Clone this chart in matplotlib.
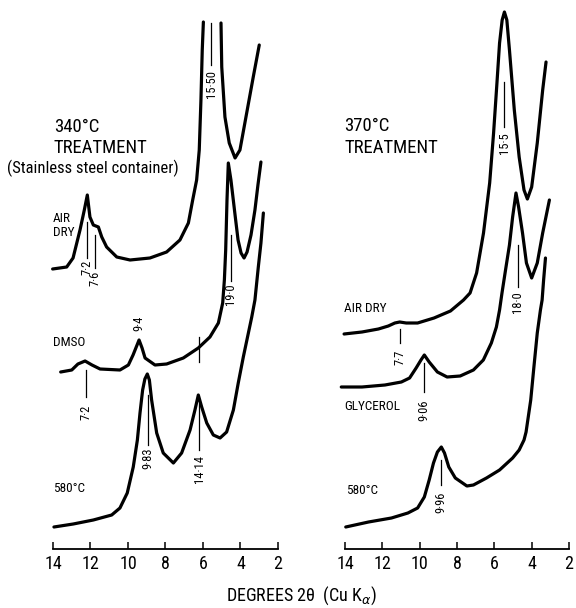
import numpy as np
import matplotlib
matplotlib.use("Agg")
import matplotlib.pyplot as plt
from matplotlib import font_manager

# --- data (2-theta in degrees, intensity in arbitrary offset units) ---
# 340 C treatment, stainless steel container
t340_air = [14.02, 13.27, 12.93, 12.56, 12.33, 12.17, 12.03, 11.85, 11.58, 11.40, 11.14, 10.60,
            9.89, 8.83, 7.94, 7.23, 6.78, 6.55, 6.34, 6.20, 6.11, 6.04, 5.98, np.nan,
            5.04, 5.00, 4.83, 4.60, 4.29, 4.03, 3.67, 3.32, 3.00]
i340_air = [280, 282, 291, 319, 339, 354, 332, 324, 322, 312, 302, 292,
            289, 291, 297, 309, 326, 349, 369, 399, 449, 499, 527, np.nan,
            526, 482, 432, 406, 391, 399, 436, 472, 504]

t340_dmso = [13.59, 13.00, 12.67, 12.29, 11.92, 11.49, 10.43, 9.98, 9.73, 9.41, 9.25, 9.09,
             8.56, 7.94, 7.05, 6.25, 5.63, 5.18, 4.95, 4.86, 4.79, 4.72, 4.65, 4.51, 4.29,
             4.13, 3.97, 3.81, 3.65, 3.44, 3.23, 3.07, 2.91]
i340_dmso = [177, 179, 185, 188, 184, 180, 179, 184, 194, 209, 201, 191,
             184, 185, 191, 201, 212, 226, 246, 269, 299, 349, 386, 369, 334,
             309, 296, 291, 297, 314, 339, 364, 387]

t340_580 = [13.95, 12.92, 11.85, 10.87, 10.43, 10.04, 9.72, 9.50, 9.36, 9.22, 9.10, 8.97, 8.86,
            8.74, 8.47, 8.12, 7.58, 7.14, 6.69, 6.43, 6.25, 6.07, 5.80, 5.45, 5.09, 4.74,
            4.38, 4.12, 3.85, 3.58, 3.40, 3.23, 3.05, 2.91, 2.78]
i340_580 = [22, 25, 29, 34, 41, 56, 82, 109, 136, 159, 170, 175, 169,
            149, 116, 96, 86, 96, 119, 139, 154, 142, 126, 114, 111, 117,
            139, 166, 192, 216, 232, 249, 282, 306, 336]

# 370 C treatment
t370_air = [14.05, 13.09, 12.21, 11.68, 11.33, 11.07, 10.72, 10.11, 9.23, 8.35, 7.65, 7.30,
            6.95, 6.58, 6.25, 6.04, 5.86, 5.72, 5.58, 5.46, 5.33, 5.19, 4.93, 4.67, 4.41,
            4.23, 4.00, 3.70, 3.41, 3.23]
i370_air = [215, 217, 220, 223, 226, 227, 226, 226, 231, 238, 249, 256,
            276, 316, 366, 416, 466, 506, 529, 537, 529, 499, 439, 392, 359,
            350, 362, 406, 459, 487]

t370_gly = [14.20, 13.09, 11.86, 10.98, 10.54, 10.19, 9.93, 9.75, 9.49, 9.05, 8.53, 7.83,
            7.12, 6.59, 6.16, 5.89, 5.72, 5.59, 5.40, 5.19, 5.02, 4.84, 4.70, 4.49, 4.28,
            4.00, 3.70, 3.41, 3.05]
i370_gly = [162, 162, 164, 167, 171, 181, 189, 194, 187, 177, 172, 173,
            179, 189, 206, 222, 239, 256, 279, 304, 332, 356, 342, 316, 286,
            271, 286, 316, 349]

t370_580 = [13.96, 12.74, 11.51, 10.63, 10.11, 9.75, 9.49, 9.26, 9.05, 8.84, 8.67, 8.44,
            8.09, 7.47, 7.12, 6.42, 5.72, 5.02, 4.67, 4.41, 4.30, 4.05, 3.88, 3.70, 3.53,
            3.44, 3.36, 3.26]
i370_580 = [22, 27, 31, 36, 41, 52, 69, 86, 97, 102, 96, 82,
            71, 63, 64, 71, 79, 91, 99, 109, 117, 149, 182, 216, 239,
            249, 269, 291]

ticks = [14, 12, 10, 8, 6, 4, 2]

# d-spacing marks: (2theta, line top, line bottom, label, label y)
marks_340 = [(12.20, 327, 291, "7·2", 282),
             (11.74, 314, 281, "7·6", 271),
             (5.57, 526, 484, "15·50", 465),
             (4.52, 314, 268, "19·0", 255),
             (9.41, None, None, "9·4", 226),
             (6.21, 212, 187, None, None),
             (12.26, 179, 152, "7·2", 137),
             (8.95, 154, 104, "9·83", 91),
             (6.21, 146, 99, "14·14", 80)]
marks_370 = [(5.46, 467, 422, "15·5", 406),
             (11.05, 220, 206, "7·7", 192),
             (4.75, 304, 262, "18·0", 247),
             (9.75, 186, 157, "9·06", 139),
             (8.84, 89, 64, "9·96", 47)]


def pick_font():
    names = {f.name for f in font_manager.fontManager.ttflist}
    for n in ["Liberation Sans Narrow", "DejaVu Sans Condensed", "Roboto Condensed"]:
        if n in names:
            return n, "normal"
    return "DejaVu Sans", "condensed"


FONT, STRETCH = pick_font()
plt.rcParams["font.family"] = [FONT, "DejaVu Sans"]
plt.rcParams["font.stretch"] = STRETCH
plt.rcParams["mathtext.fontset"] = "dejavusans"

fig = plt.figure(figsize=(5.76, 6.08), dpi=100)
W, H = 576, 608
ax1 = fig.add_axes([53 / W, (H - 549) / H, 225 / W, 549 / H])
ax2 = fig.add_axes([345 / W, (H - 549) / H, 224 / W, 549 / H])

for ax in (ax1, ax2):
    ax.set_xlim(14, 2)
    ax.set_ylim(0, 549)
    ax.patch.set_alpha(0)
    for s in ("top", "left", "right"):
        ax.spines[s].set_visible(False)
    ax.spines["bottom"].set_linewidth(1.3)
    ax.set_xticks(ticks)
    ax.set_xticklabels([str(t) for t in ticks], fontsize=13)
    ax.set_yticks([])
    ax.tick_params(axis="x", direction="in", length=5, width=1.1, pad=4)

curve = dict(color="black", lw=2.3, solid_joinstyle="round", solid_capstyle="round", clip_on=False)
ax1.plot(t340_air, i340_air, **curve)
ax1.plot(t340_dmso, i340_dmso, **curve)
ax1.plot(t340_580, i340_580, **curve)
ax2.plot(t370_air, i370_air, **curve)
ax2.plot(t370_gly, i370_gly, **curve)
ax2.plot(t370_580, i370_580, **curve)


def draw_marks(ax, marks):
    for x, y0, y1, lab, ly in marks:
        if y0 is not None:
            ax.plot([x, x], [y0, y1], color="black", lw=0.9, clip_on=False)
        if lab:
            ax.text(x, ly, lab, rotation=90, ha="center", va="center", fontsize=9)


draw_marks(ax1, marks_340)
draw_marks(ax2, marks_370)

# panel captions
ax1.text(13.95, 422, "340°C", fontsize=13.5, va="center", ha="left")
ax1.text(13.95, 401, "TREATMENT", fontsize=13.5, va="center", ha="left")
ax1.text(16.45, 381, "(Stainless steel container)", fontsize=12, va="center", ha="left")
ax1.text(14.0, 331, "AIR", fontsize=9.5, va="center", ha="left")
ax1.text(14.0, 316, "DRY", fontsize=9.5, va="center", ha="left")
ax1.text(14.0, 207, "DMSO", fontsize=9.5, va="center", ha="left")
ax1.text(14.0, 61, "580°C", fontsize=9.5, va="center", ha="left")

ax2.text(14.05, 423, "370°C", fontsize=13.5, va="center", ha="left")
ax2.text(14.05, 401, "TREATMENT", fontsize=13.5, va="center", ha="left")
ax2.text(14.05, 241, "AIR DRY", fontsize=9.5, va="center", ha="left")
ax2.text(14.05, 143, "GLYCEROL", fontsize=9.5, va="center", ha="left")
ax2.text(13.96, 58, "580°C", fontsize=9.5, va="center", ha="left")

fig.text(301 / W, 1 - 596 / H, r"DEGREES 2θ  (Cu K$_{\alpha}$)", fontsize=13,
         ha="center", va="center")

fig.savefig("out.png", dpi=100)
